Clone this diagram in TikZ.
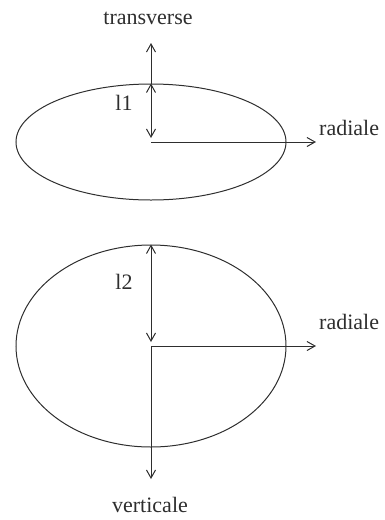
\documentclass[tikz,border=0pt]{standalone}
\usepackage{fontspec}
\setmainfont{Liberation Serif}
\usetikzlibrary{arrows.meta, positioning, shapes.geometric}
\definecolor{Ink}{HTML}{2E2E2E}
\tikzset{
  axisline/.style={line width=1pt, draw=Ink, -{Straight Barb[length=8pt,width=9pt]}},
  dimline/.style={line width=1pt, draw=Ink, {Straight Barb[length=8pt,width=9pt]}-{Straight Barb[length=8pt,width=9pt]}},
  section/.style={ellipse, draw=Ink, line width=1pt, inner sep=0pt},
  axislabel/.style={font=\fontsize{22}{26}\selectfont, text=Ink, inner sep=1pt},
}
\begin{document}
\begin{tikzpicture}[x=1pt, y=-1pt]
  \useasboundingbox (0,0) rectangle (385,520);
  % flat section
  \node[section, minimum width=270pt, minimum height=116pt] (e1) at (151,142) {};
  \node[axislabel, anchor=west] (rad1) at (318,128) {radiale};
  \node[axislabel] (trans) at (148,18) {transverse};
  \node[axislabel] (l1) at (124,103) {l1};
  \coordinate (r1) at (316,142);
  \coordinate (t1) at (151,43);
  \draw[axisline] (e1.center) -- (r1);
  \draw[axisline] (e1.north) -- (t1);
  \draw[dimline, shorten >=4pt] (e1.north) -- (e1.center);
  % round section
  \node[section, minimum width=270pt, minimum height=202pt] (e2) at (151,346) {};
  \node[axislabel, anchor=west] (rad2) at (318,322) {radiale};
  \node[axislabel] (vert) at (150,505) {verticale};
  \node[axislabel] (l2) at (124,282) {l2};
  \coordinate (r2) at (316,346);
  \coordinate (v2) at (151,479);
  \draw[axisline] (e2.center) -- (r2);
  \draw[axisline] (e2.center) -- (v2);
  \draw[dimline, shorten >=4pt] (e2.north) -- (e2.center);
\end{tikzpicture}
\end{document}
